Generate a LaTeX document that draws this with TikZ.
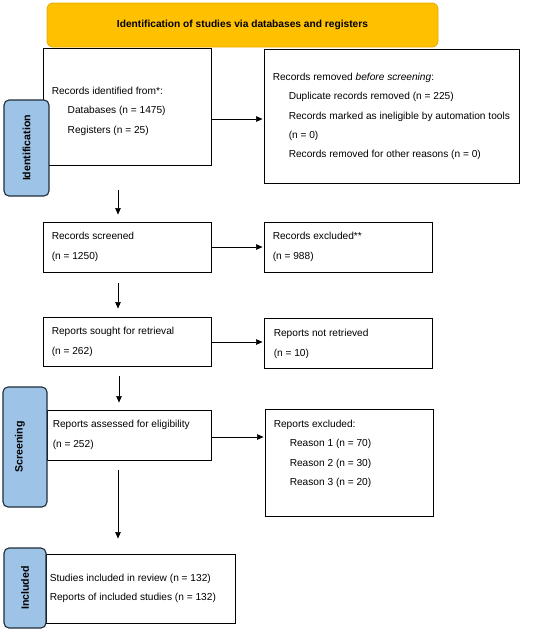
\documentclass[tikz,border=0pt]{standalone}
\usepackage{fontspec}
\setmainfont{Liberation Sans}
\usetikzlibrary{arrows.meta}
\definecolor{bannerfill}{HTML}{FFC000}
\definecolor{bannerdraw}{HTML}{E6AC00}
\definecolor{tabfill}{HTML}{9DC3E6}
\definecolor{tabdraw}{HTML}{1F2D3A}
\tikzset{
  box/.style={draw=black, line width=0.9pt, fill=white, inner sep=0pt},
  txt/.style={anchor=west, inner sep=0pt, align=left, font=\fontsize{10.15}{19.4}\selectfont},
  tab/.style={draw=tabdraw, fill=tabfill, line width=1.1pt, rounded corners=5pt, inner sep=0pt},
  tabtxt/.style={rotate=90, font=\fontsize{10.6}{12}\selectfont\bfseries},
  arr/.style={-{Triangle[length=6.5pt,width=5.5pt]}, line width=0.6pt},
}
\begin{document}
\begin{tikzpicture}[x=1pt,y=-1pt]
\useasboundingbox (0,0) rectangle (550,630);
% banner
\node[draw=bannerdraw, fill=bannerfill, line width=0.8pt, rounded corners=6pt,
      minimum width=391pt, minimum height=44pt, inner sep=0pt,
      font=\fontsize{10.2}{12}\selectfont\bfseries] (ban) at (242.5,25)
      {Identification of studies via databases and registers};
% boxes
\node[box, minimum width=168pt, minimum height=117pt] (b1) at (127,106.5) {};
\node[box, minimum width=255pt, minimum height=134pt] (b2) at (391.5,116) {};
\node[box, minimum width=168pt, minimum height=50pt] (b3) at (127,247) {};
\node[box, minimum width=168pt, minimum height=50pt] (b4) at (348,247) {};
\node[box, minimum width=168pt, minimum height=49pt] (b5) at (127,341.5) {};
\node[box, minimum width=168pt, minimum height=50pt] (b6) at (348,343) {};
\node[box, minimum width=164pt, minimum height=50pt] (b7) at (129,435) {};
\node[box, minimum width=168pt, minimum height=107pt] (b8) at (349,462.5) {};
\node[box, minimum width=189pt, minimum height=69pt] (b9) at (140.5,588.5) {};
% texts
\node[txt] (t1) at ([shift={(9,4.5)}]b1.west) {Records identified from*:\\\hspace*{16pt}Databases (n = 1475)\\\hspace*{16pt}Registers (n = 25)};
\node[txt] (t2) at ([shift={(9,0.5)}]b2.west) {Records removed \textit{before screening}:\\\hspace*{16pt}Duplicate records removed (n = 225)\\\hspace*{16pt}Records marked as ineligible by automation tools\\\hspace*{16pt}(n = 0)\\\hspace*{16pt}Records removed for other reasons (n = 0)};
\node[txt] (t3) at ([shift={(9,0)}]b3.west) {Records screened\\(n = 1250)};
\node[txt] (t4) at ([shift={(9,0)}]b4.west) {Records excluded**\\(n = 988)};
\node[txt] (t5) at ([shift={(9,0.5)}]b5.west) {Reports sought for retrieval\\(n = 262)};
\node[txt] (t6) at ([shift={(10,1)}]b6.west) {Reports not retrieved\\(n = 10)};
\node[txt] (t7) at ([shift={(6,0)}]b7.west) {Reports assessed for eligibility\\(n = 252)};
\node[txt] (t8) at ([shift={(9,-8.5)}]b8.west) {Reports excluded:\\\hspace*{16pt}Reason 1 (n = 70)\\\hspace*{16pt}Reason 2 (n = 30)\\\hspace*{16pt}Reason 3 (n = 20)};
\node[txt] (t9) at ([shift={(4,0)}]b9.west) {Studies included in review (n = 132)\\Reports of included studies (n = 132)};
% tabs
\node[tab, minimum width=45pt, minimum height=96pt] (tab1) at (26.5,148) {};
\node[tab, minimum width=44pt, minimum height=120pt] (tab2) at (25,447) {};
\node[tab, minimum width=42pt, minimum height=80pt] (tab3) at (25,588) {};
\node[tabtxt] (tt1) at (26.5,148) {Identification};
\node[tabtxt] (tt2) at (20,447) {Screening};
\node[tabtxt] (tt3) at (25,588) {Included};
% horizontal arrows
\draw[arr] ([shift={(0,3)}]b2.west -| b1.east) -- ([shift={(-1,3)}]b2.west);
\draw[arr] (b3.east) -- ([shift={(-1,0)}]b3.east -| b4.west);
\draw[arr] ([shift={(1,0.5)}]b5.east) -- ([shift={(-1,0.5)}]b5.east -| b6.west);
\draw[arr] ([shift={(1,2)}]b7.east) -- ([shift={(-1,2)}]b7.east -| b8.west);
% vertical arrows
\draw[arr] ([shift={(-9,25)}]b1.south) -- ([shift={(-9,-7)}]b3.north);
\draw[arr] ([shift={(-9,11)}]b3.south) -- ([shift={(-9,-8)}]b5.north);
\draw[arr] ([shift={(-8,10)}]b5.south) -- ([shift={(-10,-7)}]b7.north);
\draw[arr] ([shift={(-11,10)}]b7.south) -- ([shift={(-22.5,-15)}]b9.north);
\end{tikzpicture}
\end{document}
